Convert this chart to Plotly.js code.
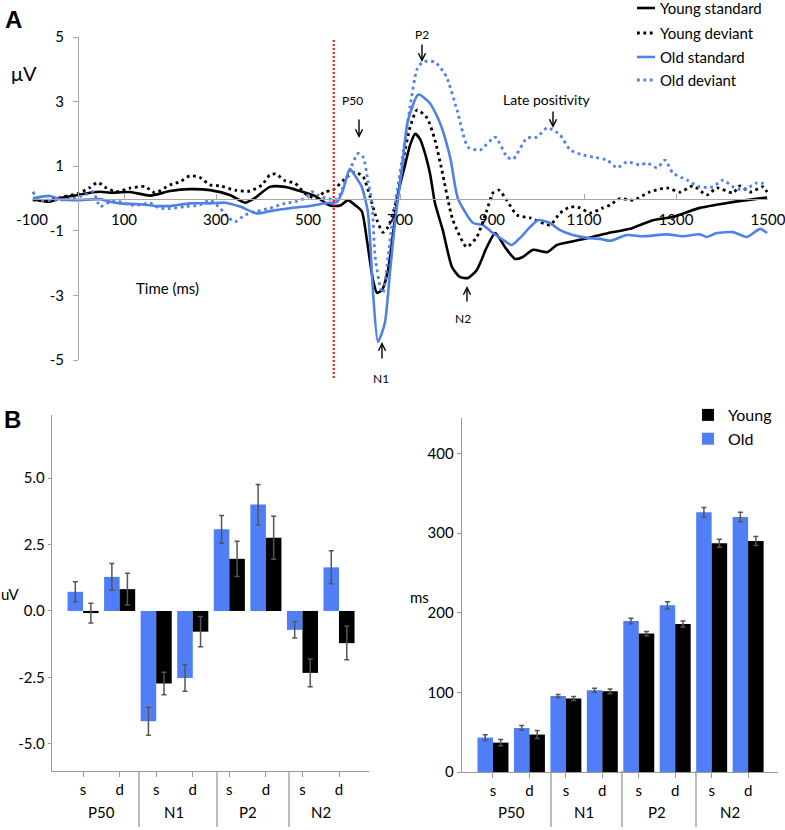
<!DOCTYPE html>
<html><head><meta charset="utf-8">
<script src="https://cdn.plot.ly/plotly-3.0.1.min.js"></script>
<style>html,body{margin:0;padding:0;background:#fff}#chart{width:785px;height:830px}</style>
</head><body><div id="chart"></div>
<script>
// ---------- Panel A: ERP waveforms (time in ms, amplitude in µV) ----------
const seriesNames = ['Young standard','Young deviant','Old standard','Old deviant'];

const youngStdT = [-98,-61,-39,0,26,48,70,113,157,200,243,287,330,363,385,417,450,483,515,548,570,587,602,617,628,641,650,661,674,685,696,711,722,733,743,750,765,776,793,813,830,848,867,889,907,928,950,967,989,1020,1041,1091,1163,1200,1250,1293,1352,1411,1454,1498];
const youngStdV = [-0.02,-0.10,0.01,0.11,0.18,0.21,0.18,0.20,0.09,0.23,0.29,0.26,0.11,-0.13,0.02,0.36,0.36,0.23,0.08,-0.22,-0.22,-0.05,-0.20,-0.40,-1.28,-2.50,-2.92,-2.83,-2.21,-1.07,0.17,1.04,1.66,2.00,1.85,1.60,0.79,-0.14,-0.98,-2.12,-2.43,-2.46,-2.21,-1.50,-1.07,-1.50,-1.87,-1.81,-1.59,-1.66,-1.44,-1.28,-1.04,-0.94,-0.67,-0.57,-0.29,-0.14,-0.05,0.03];

const youngDevT = [-98,-61,-39,0,26,43,61,83,113,146,167,200,222,243,265,287,309,341,374,400,417,430,450,472,493,515,537,554,585,602,620,635,650,663,674,685,696,707,722,737,759,776,791,815,845,867,889,902,915,932,954,983,1026,1048,1070,1091,1113,1141,1157,1178,1207,1243,1280,1309,1337,1367,1389,1424,1439,1461,1489,1498];
const youngDevV = [-0.05,-0.05,0.03,0.16,0.34,0.50,0.33,0.21,0.32,0.37,0.18,0.42,0.52,0.70,0.65,0.42,0.39,0.26,0.23,0.42,0.73,0.76,0.55,0.47,0.16,0.01,0.21,0.26,0.67,0.82,0.67,0.05,-0.67,-1.05,-0.88,-0.45,0.17,1.19,2.21,2.74,2.49,1.81,0.88,-0.67,-1.50,-1.19,-0.36,0.17,0.26,-0.05,-0.51,-0.60,-0.82,-0.45,-0.26,-0.29,-0.45,-0.29,-0.20,0.00,-0.05,0.20,0.33,0.20,0.39,0.11,0.33,0.17,0.39,0.20,0.36,0.20];

const oldStdT = [-98,-61,-39,0,48,70,91,135,167,200,243,287,320,352,389,417,461,504,541,563,576,591,607,617,624,630,635,641,652,667,678,689,696,704,717,740,765,787,809,826,859,880,902,924,943,961,983,1000,1026,1048,1076,1107,1135,1157,1193,1228,1280,1315,1352,1367,1389,1424,1454,1483,1498];
const oldStdV = [0.01,0.08,-0.02,-0.05,-0.02,-0.10,-0.15,-0.18,-0.23,-0.23,-0.15,-0.15,-0.13,-0.25,-0.46,-0.39,-0.30,-0.23,-0.14,-0.11,0.26,0.92,0.60,0.36,0.00,-0.40,-1.28,-2.83,-4.44,-3.86,-2.31,-0.76,0.05,0.88,2.40,3.22,2.95,2.34,1.28,0.00,-0.76,-0.82,-1.07,-1.28,-1.44,-1.22,-0.88,-0.67,-0.76,-0.98,-1.13,-1.22,-1.25,-1.31,-1.13,-1.17,-1.11,-1.17,-1.11,-1.19,-1.07,-1.04,-1.19,-0.94,-1.07];

const oldDevT = [-98,-85,-50,-17,15,33,48,70,91,113,135,157,178,200,233,265,287,309,325,341,363,385,417,450,472,493,509,522,540,563,585,609,620,630,639,646,657,663,674,683,711,722,737,750,776,793,802,824,848,874,907,933,946,976,998,1020,1048,1070,1098,1120,1150,1172,1193,1222,1237,1259,1276,1293,1324,1352,1380,1402,1424,1446,1476,1498];
const oldDevV = [0.21,-0.05,-0.05,-0.02,0.11,0.21,-0.25,-0.10,-0.10,-0.20,-0.20,-0.14,-0.30,-0.31,-0.25,-0.20,-0.05,-0.30,-0.56,-0.72,-0.51,-0.41,-0.30,-0.15,-0.10,0.01,0.21,0.11,0.00,-0.02,0.67,1.40,1.28,0.57,-0.14,-1.81,-2.74,-2.93,-1.81,-0.76,1.81,2.86,4.00,4.23,4.23,3.95,3.74,2.74,1.59,1.50,1.90,1.28,1.22,1.87,1.90,2.19,1.97,1.50,1.35,1.28,1.19,0.95,1.13,1.04,1.10,0.95,1.19,0.79,0.57,0.36,0.36,0.57,0.36,0.26,0.48,0.45];

const stimulusOnset = 556;
const timeTickVals = [-100,100,300,500,700,900,1100,1300,1500];
const timeTickText = ['-100','100','300','500','700','900','1100','1300','1500'];
const ampTickVals = [-5,-3,-1,1,3,5];
const ampTickText = ['-5','-3','-1','1','3','5'];

// ---------- Panel B: bar charts ----------
const components = ['P50','N1','P2','N2'];
const conditions = ['s','d'];
const groupNames = ['Young','Old'];
// amplitude (uV)
const ampOld   = [0.72, 1.28, -4.15, -2.52, 3.07, 4.00, -0.71, 1.64];
const ampOldErr= [0.38, 0.50, 0.53, 0.50, 0.52, 0.76, 0.31, 0.62];
const ampYoung = [-0.08, 0.82, -2.73, -0.78, 1.96, 2.75, -2.33, -1.21];
const ampYoungErr=[0.37, 0.60, 0.42, 0.57, 0.66, 0.81, 0.52, 0.63];
// latency (ms)
const latOld   = [43.2, 55.3, 95.5, 102.6, 189.7, 209.4, 326.3, 320.4];
const latOldErr= [3.5, 3.0, 2.0, 2.5, 3.5, 4.6, 6.0, 6.0];
const latYoung = [36.9, 47.0, 92.2, 101.4, 173.9, 186.0, 287.3, 290.2];
const latYoungErr=[4.0, 5.0, 2.5, 3.0, 2.7, 3.8, 5.0, 5.6];
const ampTicksB = [-5, -2.5, 0, 2.5, 5];
const ampTicksBText = ['-5.0','-2.5','0.0','2.5','5.0'];
const latTicksB = [0,100,200,300,400];

// ---------- helpers ----------
const W = 785, H = 830;
const PX = x => x / W, PY = y => 1 - y / H;
const FONT = 'Lato, "Open Sans", sans-serif';
const BLUE_LINE = '#4f81e6';
const BLUE_BAR = '#4f7ef7';
const DOT = '2.8px,3.6px';

const barX = [];
const barTickText = [];
components.forEach((c, i) => conditions.forEach((d, j) => { barX.push(i * conditions.length + j); barTickText.push(d); }));

const lineStyles = [
  {color: '#000', width: 2.6},
  {color: '#000', width: 2.8, dash: DOT},
  {color: BLUE_LINE, width: 2.6},
  {color: BLUE_LINE, width: 2.8, dash: DOT}
];
const seriesT = [youngStdT, youngDevT, oldStdT, oldDevT];
const seriesV = [youngStdV, youngDevV, oldStdV, oldDevV];

const traces = seriesNames.map((name, i) => ({
  type: 'scatter', mode: 'lines', x: seriesT[i], y: seriesV[i], name: name,
  line: Object.assign({shape: 'spline', smoothing: 0.6}, lineStyles[i]),
  xaxis: 'x', yaxis: 'y', showlegend: false
}));

const errStyle = {color: '#555', thickness: 1.5, width: 2.5};
traces.push(
  {type: 'bar', x: barX, y: ampOld, name: groupNames[1], marker: {color: BLUE_BAR}, error_y: Object.assign({type: 'data', array: ampOldErr}, errStyle), xaxis: 'x2', yaxis: 'y2', showlegend: false},
  {type: 'bar', x: barX, y: ampYoung, name: groupNames[0], marker: {color: '#000'}, error_y: Object.assign({type: 'data', array: ampYoungErr}, errStyle), xaxis: 'x2', yaxis: 'y2', showlegend: false},
  {type: 'bar', x: barX, y: latOld, name: groupNames[1], marker: {color: BLUE_BAR}, error_y: Object.assign({type: 'data', array: latOldErr}, errStyle), xaxis: 'x3', yaxis: 'y3', legend: 'legend2'},
  {type: 'bar', x: barX, y: latYoung, name: groupNames[0], marker: {color: '#000'}, error_y: Object.assign({type: 'data', array: latYoungErr}, errStyle), xaxis: 'x3', yaxis: 'y3', legend: 'legend2'}
);

const tickFont = {family: FONT, size: 15, color: '#000'};
const axGray = '#a6a6a6';

const annotations = [];
const shapes = [];
function txt(text, x, y, size, opts) {
  annotations.push(Object.assign({text: text, x: PX(x), y: PY(y), xref: 'paper', yref: 'paper', showarrow: false,
    xanchor: 'center', yanchor: 'middle', font: {family: FONT, size: size, color: '#000'}}, opts || {}));
}
function arrow(x, yTip, yTail) {
  annotations.push({text: '', x: PX(x), y: PY(yTip), xref: 'paper', yref: 'paper', axref: 'pixel', ayref: 'pixel',
    ax: 0, ay: yTail - yTip, showarrow: true, arrowhead: 5, arrowsize: 1, arrowwidth: 1.4, arrowcolor: '#000'});
}
txt('<b>A</b>', 13, 19, 24, {font: {family: 'Arial, "Liberation Sans", sans-serif', size: 24, color: '#000'}});
txt('<b>B</b>', 12, 420, 24, {font: {family: 'Arial, "Liberation Sans", sans-serif', size: 24, color: '#000'}});
txt('μV', 24, 73, 20);
txt('Time (ms)', 167, 288, 15);
txt('P50', 352, 101, 12); arrow(359, 138, 118);
txt('P2', 422, 35, 12); arrow(422, 62, 43);
txt('Late positivity', 546, 99, 14); arrow(553, 128, 110);
txt('N1', 381, 378, 12); arrow(382, 342, 360);
txt('N2', 463, 318, 12); arrow(467, 286, 303);
txt('uV', 10, 594, 15);
txt('ms', 419, 597, 15);
components.forEach((c, i) => {
  const xc = i * conditions.length + (conditions.length - 1) / 2;
  annotations.push({text: c, x: xc, xref: 'x2', y: PY(812), yref: 'paper', showarrow: false, font: tickFont, yanchor: 'middle'});
  annotations.push({text: c, x: xc, xref: 'x3', y: PY(812), yref: 'paper', showarrow: false, font: tickFont, yanchor: 'middle'});
});

// legend of panel A (key: line sample + series name)
const legendRowsY = [8, 33, 57, 80];
seriesNames.forEach((name, i) => {
  shapes.push({type: 'line', xref: 'paper', yref: 'paper', x0: PX(637), x1: PX(655), y0: PY(legendRowsY[i]), y1: PY(legendRowsY[i]),
    line: Object.assign({}, lineStyles[i])});
  txt(name, 658, legendRowsY[i], 15, {xanchor: 'left'});
});

shapes.push({type: 'line', xref: 'x', yref: 'paper', x0: stimulusOnset, x1: stimulusOnset, y0: PY(378), y1: PY(38),
  line: {color: '#e3231b', width: 2.2, dash: '2px,2px'}});
[139, 217, 289, 551, 622, 696].forEach(xp => shapes.push({type: 'line', xref: 'paper', yref: 'paper',
  x0: PX(xp), x1: PX(xp), y0: PY(771), y1: PY(827), line: {color: '#999', width: 1.3}}));

const layout = {
  width: W, height: H, margin: {l: 0, r: 0, t: 0, b: 0}, paper_bgcolor: '#fff', plot_bgcolor: 'rgba(0,0,0,0)',
  font: {family: FONT, color: '#000'},
  barmode: 'group', bargap: 0.15, bargroupgap: 0,
  xaxis: {domain: [PX(32), PX(768)], range: [-100, 1500], anchor: 'free', position: PY(198.5),
    showline: true, linecolor: axGray, linewidth: 1, ticks: 'inside', ticklen: 5, tickcolor: axGray,
    tickvals: timeTickVals, ticktext: timeTickText, tickfont: tickFont, showgrid: false, zeroline: false,
    ticklabelstandoff: 7, ticklabeloverflow: 'allow'},
  yaxis: {domain: [PY(360), PY(37)], range: [-5, 5], anchor: 'free', position: PX(78),
    showline: true, linecolor: axGray, linewidth: 1, ticks: 'outside', ticklen: 5, tickcolor: axGray,
    tickvals: ampTickVals, ticktext: ampTickText, tickfont: tickFont, showgrid: false, zeroline: false, ticklabelstandoff: 6},
  xaxis2: {domain: [PX(52), PX(369)], range: [-0.85, 7.82], anchor: 'y2', showline: true, linecolor: '#999', linewidth: 1.3,
    ticks: 'outside', ticklen: 5, tickcolor: '#999', tickvals: barX, ticktext: barTickText, tickfont: tickFont, showgrid: false, zeroline: false},
  yaxis2: {domain: [PY(771), PY(415)], range: [-6.02, 7.37], anchor: 'x2', showline: true, linecolor: '#999', linewidth: 1.3,
    ticks: 'outside', ticklen: 3, tickcolor: '#999', tickvals: ampTicksB, ticktext: ampTicksBText, tickfont: tickFont, showgrid: false, zeroline: false},
  xaxis3: {domain: [PX(462), PX(778)], range: [-0.85, 7.82], anchor: 'y3', showline: true, linecolor: '#999', linewidth: 1.3,
    ticks: 'outside', ticklen: 5, tickcolor: '#999', tickvals: barX, ticktext: barTickText, tickfont: tickFont, showgrid: false, zeroline: false},
  yaxis3: {domain: [PY(772), PY(418)], range: [0, 444.7], anchor: 'x3', showline: true, linecolor: '#999', linewidth: 1.3,
    ticks: 'outside', ticklen: 4, tickcolor: '#999', tickvals: latTicksB, tickfont: tickFont, showgrid: false, zeroline: false},
  legend2: {x: PX(688), y: PY(398), xanchor: 'left', yanchor: 'top', bgcolor: 'rgba(0,0,0,0)', font: {family: FONT, size: 16, color: '#000'},
    traceorder: 'reversed'},
  annotations: annotations, shapes: shapes, showlegend: true
};

Plotly.newPlot('chart', traces, layout, {staticPlot: true, displayModeBar: false});
</script></body></html>
